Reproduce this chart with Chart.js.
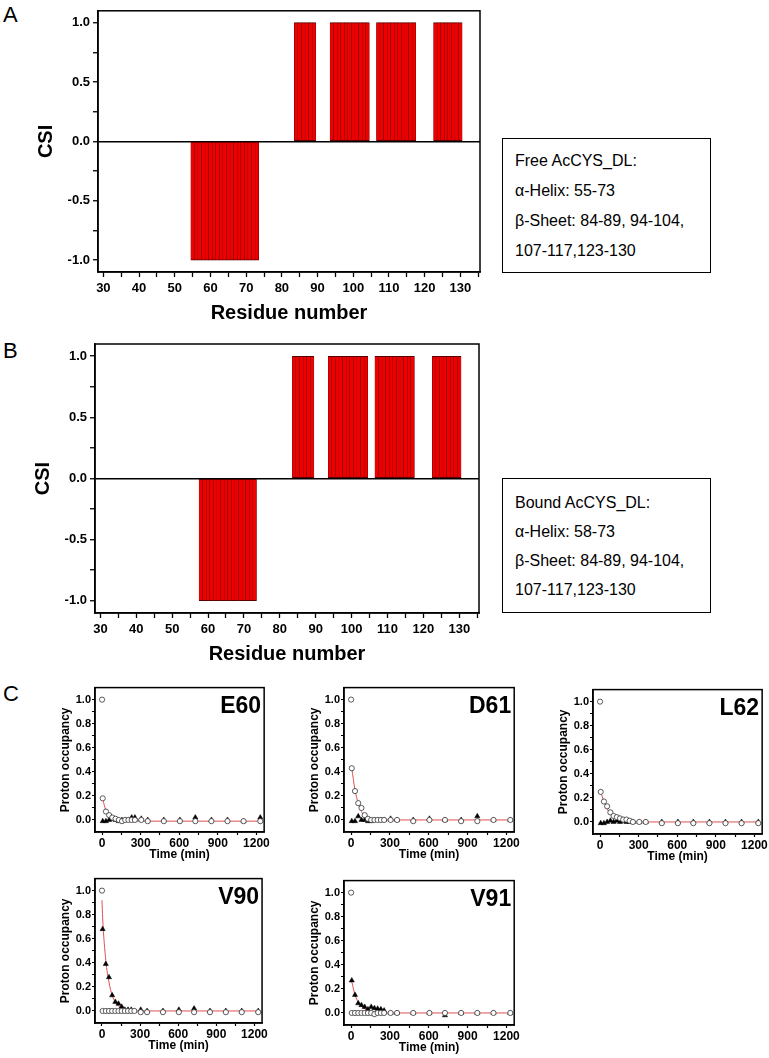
<!DOCTYPE html>
<html>
<head>
<meta charset="utf-8">
<script src="https://cdn.jsdelivr.net/npm/chart.js@4.4.1/dist/chart.umd.min.js"></script>
<style>
  body { margin: 0; background: #fff; font-family: Arial, "Liberation Sans", sans-serif; }
  #page { position: relative; width: 769px; height: 1058px; overflow: hidden; }
  canvas { position: absolute; }
  .tag { position: absolute; font-size: 22px; line-height: 22px; color: #000; }
  .info { position: absolute; border: 1.5px solid #000; box-sizing: border-box; font-size: 16px; color: #000; padding-left: 12px; white-space: nowrap; }
</style>
</head>
<body>
<div id="page">
  <div class="tag" style="left:3px;top:4px">A</div>
  <div class="tag" style="left:3px;top:340px">B</div>
  <div class="tag" style="left:3px;top:683px">C</div>

  <canvas id="csiA" width="500" height="330" style="left:0;top:0"></canvas>
  <canvas id="csiB" width="500" height="340" style="left:0;top:330px"></canvas>

  <div class="info" style="left:502px;top:138px;width:209px;height:135px;line-height:30px;padding-top:7px">
    Free AcCYS_DL:<br>α-Helix: 55-73<br>β-Sheet: 84-89, 94-104,<br>107-117,123-130
  </div>
  <div class="info" style="left:502px;top:478px;width:209px;height:135px;line-height:29px;padding-top:9px">
    Bound AcCYS_DL:<br>α-Helix: 58-73<br>β-Sheet: 84-89, 94-104,<br>107-117,123-130
  </div>

  <canvas id="e60"></canvas>
  <canvas id="d61"></canvas>
  <canvas id="l62"></canvas>
  <canvas id="v90"></canvas>
  <canvas id="v91"></canvas>
</div>

<script>
// ---- panel A / B : chemical shift index per residue ----
const residuesA = [55, 56, 57, 58, 59, 60, 61, 62, 63, 64, 65, 66, 67, 68, 69, 70, 71, 72, 73,
  84, 85, 86, 87, 88, 89,
  94, 95, 96, 97, 98, 99, 100, 101, 102, 103, 104,
  107, 108, 109, 110, 111, 112, 113, 114, 115, 116, 117,
  123, 124, 125, 126, 127, 128, 129, 130];
const csiA = [-1, -1, -1, -1, -1, -1, -1, -1, -1, -1, -1, -1, -1, -1, -1, -1, -1, -1, -1,
  1, 1, 1, 1, 1, 1,
  1, 1, 1, 1, 1, 1, 1, 1, 1, 1, 1,
  1, 1, 1, 1, 1, 1, 1, 1, 1, 1, 1,
  1, 1, 1, 1, 1, 1, 1, 1];

const residuesB = [58, 59, 60, 61, 62, 63, 64, 65, 66, 67, 68, 69, 70, 71, 72, 73,
  84, 85, 86, 87, 88, 89,
  94, 95, 96, 97, 98, 99, 100, 101, 102, 103, 104,
  107, 108, 109, 110, 111, 112, 113, 114, 115, 116, 117,
  123, 124, 125, 126, 127, 128, 129, 130];
const csiB = [-1, -1, -1, -1, -1, -1, -1, -1, -1, -1, -1, -1, -1, -1, -1, -1,
  1, 1, 1, 1, 1, 1,
  1, 1, 1, 1, 1, 1, 1, 1, 1, 1, 1,
  1, 1, 1, 1, 1, 1, 1, 1, 1, 1, 1,
  1, 1, 1, 1, 1, 1, 1, 1];

// tick marks (labelled ones are in the *Labels arrays)
const residueTicks = [30, 35, 40, 45, 50, 55, 60, 65, 70, 75, 80, 85, 90, 95, 100, 105, 110, 115, 120, 125, 130, 135];
const residueLabels = [30, 40, 50, 60, 70, 80, 90, 100, 110, 120, 130];
const csiTicks = [-1, -0.75, -0.5, -0.25, 0, 0.25, 0.5, 0.75, 1];
const csiLabels = [-1, -0.5, 0, 0.5, 1];

// ---- panel C : proton occupancy vs time ----
const times = [0, 5, 30, 55, 80, 105, 130, 155, 180, 205, 230, 255, 305, 355, 480, 605, 725, 850, 975, 1100, 1230];
const timeTicks = [0, 150, 300, 450, 600, 750, 900, 1050, 1200];
const timeLabels = [0, 300, 600, 900, 1200];
const occTicks = [0, 0.1, 0.2, 0.3, 0.4, 0.5, 0.6, 0.7, 0.8, 0.9, 1.0];
const occLabels = [0, 0.2, 0.4, 0.6, 0.8, 1.0];

const e60Circ = [1.0, 0.18, 0.07, 0.04, 0.02, 0.01, 0.0, -0.01, 0.0, 0.0, 0.0, 0.0, 0.0, -0.01, -0.01, -0.01, -0.01, -0.01, -0.01, -0.01, -0.01];
const e60Tri = [null, -0.01, -0.01, 0.0, 0.01, 0.0, -0.01, 0.0, 0.0, 0.0, 0.02, 0.02, 0.01, 0.0, 0.0, 0.0, 0.02, 0.0, 0.0, -0.01, 0.02];
const e60Fit = [null, 0.17, 0.08, 0.03, 0.01, 0.0, -0.01, -0.01, -0.01, -0.01, -0.01, -0.01, -0.01, -0.01, -0.01, -0.01, -0.01, -0.01, -0.01, -0.01, -0.01];

const d61Circ = [1.0, 0.43, 0.24, 0.14, 0.10, 0.04, 0.01, 0.0, 0.0, 0.0, 0.0, 0.0, 0.0, 0.0, -0.01, 0.0, 0.0, -0.01, -0.01, 0.0, 0.0];
const d61Tri = [null, -0.01, -0.01, 0.03, 0.0, 0.0, -0.01, -0.01, 0.0, 0.0, 0.0, 0.0, 0.01, 0.0, 0.0, 0.01, 0.0, 0.0, 0.03, 0.0, 0.0];
const d61Fit = [null, 0.43, 0.25, 0.14, 0.07, 0.035, 0.015, 0.005, 0.0, 0.0, 0.0, 0.0, 0.0, 0.0, 0.0, 0.0, 0.0, 0.0, 0.0, 0.0, 0.0];

const l62Circ = [1.0, 0.25, 0.17, 0.13, 0.08, 0.05, 0.04, 0.03, 0.02, 0.02, 0.01, 0.0, 0.0, 0.0, -0.01, -0.01, -0.01, -0.01, -0.01, -0.01, -0.01];
const l62Tri = [null, -0.01, -0.01, 0.0, 0.01, 0.0, 0.01, 0.0, 0.01, 0.0, 0.0, 0.0, 0.0, 0.0, 0.0, 0.0, 0.0, 0.0, 0.0, 0.0, 0.0];
const l62Fit = [null, 0.25, 0.17, 0.11, 0.07, 0.045, 0.03, 0.02, 0.012, 0.007, 0.004, 0.002, 0.0, 0.0, 0.0, 0.0, 0.0, 0.0, 0.0, 0.0, 0.0];

const v90Circ = [1.0, 0.0, 0.0, 0.0, 0.0, 0.0, 0.0, 0.0, 0.0, 0.0, 0.0, 0.0, -0.01, -0.01, -0.01, -0.01, -0.01, -0.01, -0.01, -0.01, -0.01];
const v90Tri = [null, 0.68, 0.39, 0.28, 0.13, 0.075, 0.06, 0.035, 0.01, 0.01, 0.01, 0.0, 0.01, 0.0, 0.0, 0.01, 0.02, 0.0, 0.0, 0.0, 0.0];
const v90Fit = [0.92, 0.78, 0.42, 0.24, 0.13, 0.075, 0.04, 0.02, 0.01, 0.005, 0.0, 0.0, 0.0, 0.0, 0.0, 0.0, 0.0, 0.0, 0.0, 0.0, 0.0];

const v91Circ = [1.0, 0.0, 0.0, 0.0, 0.0, 0.0, 0.0, 0.0, -0.01, 0.0, 0.0, 0.0, 0.0, 0.0, 0.0, 0.0, 0.0, 0.0, 0.0, 0.0, 0.0];
const v91Tri = [null, 0.27, 0.15, 0.08, 0.065, 0.05, 0.03, 0.05, 0.04, 0.035, 0.03, 0.02, 0.0, 0.0, 0.0, 0.0, -0.02, 0.0, 0.0, 0.0, 0.0];
const v91Fit = [null, 0.26, 0.15, 0.09, 0.055, 0.035, 0.02, 0.012, 0.007, 0.004, 0.002, 0.001, 0.0, 0.0, 0.0, 0.0, 0.0, 0.0, 0.0, 0.0, 0.0];

const FONT = "Arial, 'Liberation Sans', sans-serif";
Chart.defaults.font.family = FONT;
Chart.defaults.color = "#000";

// black frame round the plot, plus the residue tag in panel C
const framePlugin = {
  id: "frame",
  afterDraw(chart, args, opts) {
    const a = chart.chartArea;
    const c = chart.ctx;
    c.save();
    c.strokeStyle = "#000";
    c.lineWidth = 1.5;
    c.strokeRect(a.left, a.top, a.right - a.left, a.bottom - a.top);
    if (opts.tag) {
      c.font = "bold 23px " + FONT;
      c.fillStyle = "#000";
      c.textAlign = "right";
      c.textBaseline = "alphabetic";
      c.fillText(opts.tag, a.right - 3, a.top + 25);
    }
    c.restore();
  },
};

function isIn(list, v) {
  return list.some((x) => Math.abs(x - v) < 1e-6);
}

function csiChart(id, residues, values, pad, yWidth, xHeight, yTitlePad, xTitlePad) {
  const pts = residues.map((r, i) => ({ x: r, y: values[i] }));
  return new Chart(document.getElementById(id), {
    type: "bar",
    data: {
      datasets: [{
        data: pts,
        backgroundColor: "#ee0000",
        borderColor: "#5a0000",
        borderWidth: { left: 0.45, right: 0.45, top: 1, bottom: 1 },
        borderSkipped: false,
        barPercentage: 1,
        categoryPercentage: 1,
      }],
    },
    options: {
      responsive: false,
      animation: false,
      layout: { padding: pad },
      plugins: { legend: { display: false }, tooltip: { enabled: false }, frame: {} },
      scales: {
        x: {
          type: "linear",
          min: 28.5,
          max: 135.5,
          offset: false,
          afterBuildTicks: (s) => { s.ticks = residueTicks.map((v) => ({ value: v })); },
          ticks: {
            autoSkip: false,
            maxRotation: 0,
            padding: 4,
            font: { size: 13, weight: "bold" },
            callback: (v) => (isIn(residueLabels, v) ? v : ""),
          },
          grid: { offset: false, drawOnChartArea: false, tickColor: "#000", tickLength: 5, tickWidth: 1.3 },
          border: { display: true, color: "#000", width: 1.5 },
          title: { display: true, text: "Residue number", font: { size: 20, weight: "bold" }, padding: { top: 0, bottom: xTitlePad } },
          afterFit: (s) => { s.height = xHeight; },
        },
        y: {
          min: -1.1,
          max: 1.1,
          afterBuildTicks: (s) => { s.ticks = csiTicks.map((v) => ({ value: v })); },
          ticks: {
            autoSkip: false,
            padding: 3,
            font: { size: 13, weight: "bold" },
            callback: (v) => (isIn(csiLabels, v) ? v.toFixed(1) : ""),
          },
          grid: {
            drawOnChartArea: true,
            color: (c) => (c.tick && Math.abs(c.tick.value) < 1e-9 ? "#000" : "rgba(0,0,0,0)"),
            lineWidth: 1.5,
            tickColor: "#000",
            tickLength: 5,
            tickWidth: 1.3,
          },
          border: { display: true, color: "#000", width: 1.5 },
          title: { display: true, text: "CSI", font: { size: 20, weight: "bold" }, padding: { top: yTitlePad, bottom: 0 } },
          afterFit: (s) => { s.width = yWidth; },
        },
      },
    },
    plugins: [framePlugin],
  });
}

csiChart("csiA", residuesA, csiA, { top: 4, right: 20, left: 0, bottom: 0 }, 98, 58, 34, 5);
csiChart("csiB", residuesB, csiB, { top: 14, right: 21, left: 0, bottom: 0 }, 95, 57, 31, 4);

function toPoints(vals) {
  const out = [];
  vals.forEach((v, i) => { if (v !== null) out.push({ x: times[i], y: v }); });
  return out;
}

// plot rectangle (left, top, right) in page pixels
function kineticChart(id, tag, circ, tri, fit, left, top, right) {
  const el = document.getElementById(id);
  const w = right - left + 95 + 4;
  el.width = w;
  el.height = 186;
  el.style.left = (left - 95) + "px";
  el.style.top = (top - 7) + "px";
  return new Chart(el, {
    type: "scatter",
    data: {
      datasets: [
        {
          data: toPoints(circ),
          pointStyle: "circle",
          pointRadius: 2.6,
          borderColor: "#333",
          borderWidth: 0.8,
          backgroundColor: "#fff",
        },
        {
          data: toPoints(tri),
          pointStyle: "triangle",
          pointRadius: 3,
          borderColor: "#000",
          borderWidth: 0.5,
          backgroundColor: "#000",
        },
        {
          data: toPoints(fit),
          showLine: true,
          pointRadius: 0,
          borderColor: "#e05050",
          borderWidth: 1,
          cubicInterpolationMode: "monotone",
        },
      ],
    },
    options: {
      responsive: false,
      animation: false,
      layout: { padding: { top: 7, right: 4, left: 0, bottom: 0 } },
      plugins: { legend: { display: false }, tooltip: { enabled: false }, frame: { tag: tag } },
      scales: {
        x: {
          type: "linear",
          min: -55,
          max: 1260,
          afterBuildTicks: (s) => { s.ticks = timeTicks.map((v) => ({ value: v })); },
          ticks: {
            autoSkip: false,
            maxRotation: 0,
            padding: 1,
            font: { size: 12, weight: "bold" },
            callback: (v) => (isIn(timeLabels, v) ? v : ""),
          },
          grid: { drawOnChartArea: false, tickColor: "#000", tickLength: 3, tickWidth: 1.2 },
          border: { display: true, color: "#000", width: 1.5 },
          title: { display: true, text: "Time (min)", font: { size: 12, weight: "bold" }, padding: { top: 0, bottom: 4 } },
          afterFit: (s) => { s.height = 34; },
        },
        y: {
          min: -0.1,
          max: 1.1,
          afterBuildTicks: (s) => { s.ticks = occTicks.map((v) => ({ value: v })); },
          ticks: {
            autoSkip: false,
            padding: 1,
            font: { size: 11, weight: "bold" },
            callback: (v) => (isIn(occLabels, v) ? v.toFixed(1) : ""),
          },
          grid: { drawOnChartArea: false, tickColor: "#000", tickLength: 3, tickWidth: 1.2 },
          border: { display: true, color: "#000", width: 1.5 },
          title: { display: true, text: "Proton occupancy", font: { size: 12, weight: "bold" }, padding: { top: 58, bottom: 0 } },
          afterFit: (s) => { s.width = 95; },
        },
      },
    },
    plugins: [framePlugin],
  });
}

kineticChart("e60", "E60", e60Circ, e60Tri, e60Fit, 95, 687, 267);
kineticChart("d61", "D61", d61Circ, d61Tri, d61Fit, 344, 687, 517);
kineticChart("l62", "L62", l62Circ, l62Tri, l62Fit, 593, 689, 765);
kineticChart("v90", "V90", v90Circ, v90Tri, v90Fit, 95, 878, 265);
kineticChart("v91", "V91", v91Circ, v91Tri, v91Fit, 344, 880, 517);
</script>
</body>
</html>
